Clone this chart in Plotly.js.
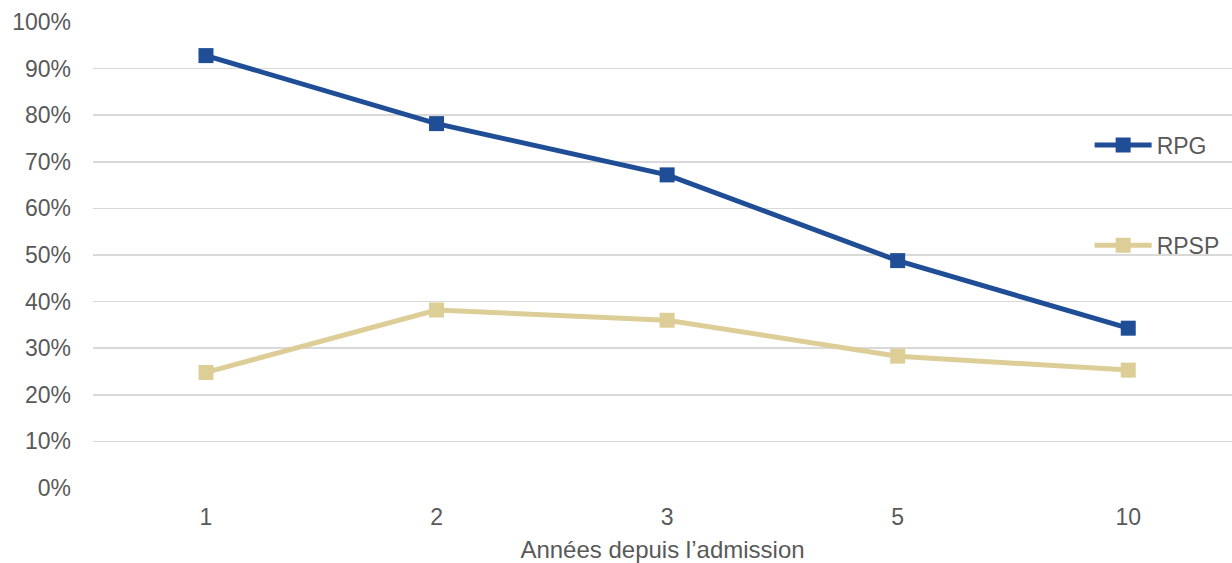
<!DOCTYPE html>
<html>
<head>
<meta charset="utf-8">
<script src="https://cdn.plot.ly/plotly-3.0.1.min.js"></script>
<style>html,body{margin:0;padding:0;background:#fff;}#chart{width:1232px;height:563px;}</style>
</head>
<body>
<div id="chart"></div>
<script>
var categories = ['1', '2', '3', '5', '10'];
var rpg = [0.928, 0.782, 0.672, 0.488, 0.343];
var rpsp = [0.248, 0.382, 0.360, 0.283, 0.253];
var seriesNames = ['RPG', 'RPSP'];
var xTitle = 'Années depuis l\u2019admission';

var font = 'Liberation Sans, Arial, sans-serif';
var gray = '#595959';

var traces = [
  {
    x: categories, y: rpg, name: seriesNames[0], type: 'scatter', mode: 'lines+markers',
    line: {color: '#1F4E96', width: 5},
    marker: {symbol: 'square', size: 15, color: '#1F4E96'},
    legend: 'legend'
  },
  {
    x: categories, y: rpsp, name: seriesNames[1], type: 'scatter', mode: 'lines+markers',
    line: {color: '#DDCE98', width: 5},
    marker: {symbol: 'square', size: 15, color: '#DDCE98'},
    legend: 'legend2'
  }
];

var layout = {
  width: 1232, height: 563,
  margin: {l: 93, r: 0, t: 22, b: 75},
  paper_bgcolor: '#fff', plot_bgcolor: '#fff',
  font: {family: font, color: gray, size: 23},
  showlegend: true,
  xaxis: {
    type: 'category',
    range: [-0.49, 4.45],
    showgrid: false, zeroline: false, showline: false,
    ticks: '', tickfont: {size: 23, color: gray}, ticklabelstandoff: 13,
    title: {text: xTitle, font: {size: 24, color: gray}, standoff: 12}
  },
  yaxis: {
    range: [0, 1.0001], dtick: 0.1, tick0: 0, tickformat: '.0%',
    showgrid: true, gridcolor: '#d9d9d9', gridwidth: 1.5,
    zeroline: false, showline: false, ticks: '',
    tickfont: {size: 23, color: gray}, ticklabelstandoff: 21
  },
  legend: {
    x: 0.875, y: 0.736, xanchor: 'left', yanchor: 'middle', itemwidth: 57,
    bgcolor: 'rgba(0,0,0,0)', font: {size: 23, color: gray}
  },
  legend2: {
    x: 0.875, y: 0.521, xanchor: 'left', yanchor: 'middle', itemwidth: 57,
    bgcolor: 'rgba(0,0,0,0)', font: {size: 23, color: gray}
  }
};

Plotly.newPlot('chart', traces, layout, {displayModeBar: false, staticPlot: true});
</script>
</body>
</html>
